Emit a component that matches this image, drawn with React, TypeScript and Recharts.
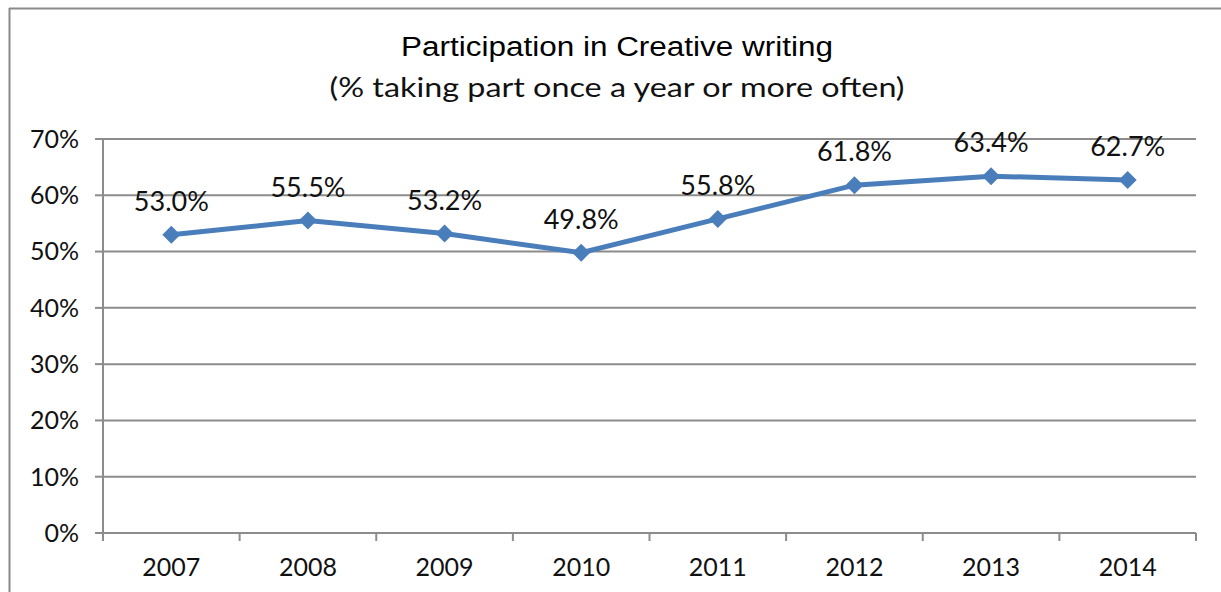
import React from 'react';
import { LineChart, Line, XAxis, YAxis, CartesianGrid, LabelList } from 'recharts';

const years = ['2007', '2008', '2009', '2010', '2011', '2012', '2013', '2014'];
const participation = [53.0, 55.5, 53.2, 49.8, 55.8, 61.8, 63.4, 62.7];
const yTicks = [0, 10, 20, 30, 40, 50, 60, 70];

const data = years.map((year, i) => ({ year, value: participation[i] }));

const LINE_COLOR = '#4a7ebb';
const GRID_COLOR = '#8c8c8c';
const FONT = 'Lato, "Open Sans", sans-serif';

// diamond marker around the point recharts gives us
const Diamond = (props: { cx?: number; cy?: number; index?: number }) => {
  const { cx, cy, index } = props;
  if (cx === undefined || cy === undefined) return null;
  const r = 9;
  return (
    <polygon
      key={`dot-${index}`}
      points={`${cx},${cy - r} ${cx + r},${cy} ${cx},${cy + r} ${cx - r},${cy}`}
      fill={LINE_COLOR}
    />
  );
};

// year label + the small tick marks between categories (Excel style)
const YearTick = (props: any) => {
  const { x, y, payload, index, width, visibleTicksCount } = props;
  const half = width / visibleTicksCount / 2;
  return (
    <g>
      <line x1={x - half} y1={y} x2={x - half} y2={y + 8} stroke={GRID_COLOR} strokeWidth={2} />
      {index === visibleTicksCount - 1 && (
        <line x1={x + half} y1={y} x2={x + half} y2={y + 8} stroke={GRID_COLOR} strokeWidth={2} />
      )}
      <text x={x} y={y + 43} textAnchor="middle" fill="#111" fontSize={25} fontFamily={FONT}>
        {payload.value}
      </text>
    </g>
  );
};

export default function App() {
  return (
    <div style={{ position: 'fixed', left: 0, top: 0, width: 1221, height: 592, background: '#fff', overflow: 'hidden' }}>
      {/* frame + titles */}
      <svg width={1221} height={592} style={{ position: 'absolute', left: 0, top: 0 }}>
        <line x1={9} y1={8.5} x2={1221} y2={8.5} stroke="#8a8a8a" strokeWidth={2} />
        <line x1={9.5} y1={8} x2={9.5} y2={592} stroke="#8a8a8a" strokeWidth={2} />
        <text x={617} y={56} textAnchor="middle" fontFamily='"Liberation Sans", Arial, sans-serif' fontSize={27} fill="#000" textLength={432} lengthAdjust="spacingAndGlyphs">
          Participation in Creative writing
        </text>
        <text x={617} y={97} textAnchor="middle" fontFamily={FONT} fontSize={27} fill="#111" textLength={575} lengthAdjust="spacingAndGlyphs">
          (% taking part once a year or more often)
        </text>
      </svg>
      <div style={{ position: 'absolute', left: 0, top: 0 }}>
        <LineChart width={1221} height={592} data={data} margin={{ top: 139, right: 25, left: 0, bottom: 0 }}>
          <CartesianGrid vertical={false} stroke={GRID_COLOR} strokeWidth={2} />
          <XAxis
            dataKey="year"
            scale="band"
            height={59}
            interval={0}
            tickSize={0}
            tickMargin={0}
            tickLine={false}
            axisLine={{ stroke: GRID_COLOR, strokeWidth: 2 }}
            tick={YearTick}
          />
          <YAxis
            domain={[0, 70]}
            ticks={yTicks}
            width={103}
            tickFormatter={(v: number) => `${v}%`}
            tick={{ fill: '#111', fontSize: 25, fontFamily: FONT }}
            tickSize={8}
            tickMargin={16}
            axisLine={{ stroke: GRID_COLOR, strokeWidth: 2 }}
            tickLine={{ stroke: GRID_COLOR, strokeWidth: 2 }}
          />
          <Line
            type="linear"
            dataKey="value"
            stroke={LINE_COLOR}
            strokeWidth={5}
            dot={Diamond}
            activeDot={false}
            isAnimationActive={false}
          >
            <LabelList
              dataKey="value"
              position="top"
              offset={24}
              formatter={(v: number) => `${v.toFixed(1)}%`}
              style={{ fill: '#111', fontSize: 27, fontFamily: FONT }}
            />
          </Line>
        </LineChart>
      </div>
    </div>
  );
}
